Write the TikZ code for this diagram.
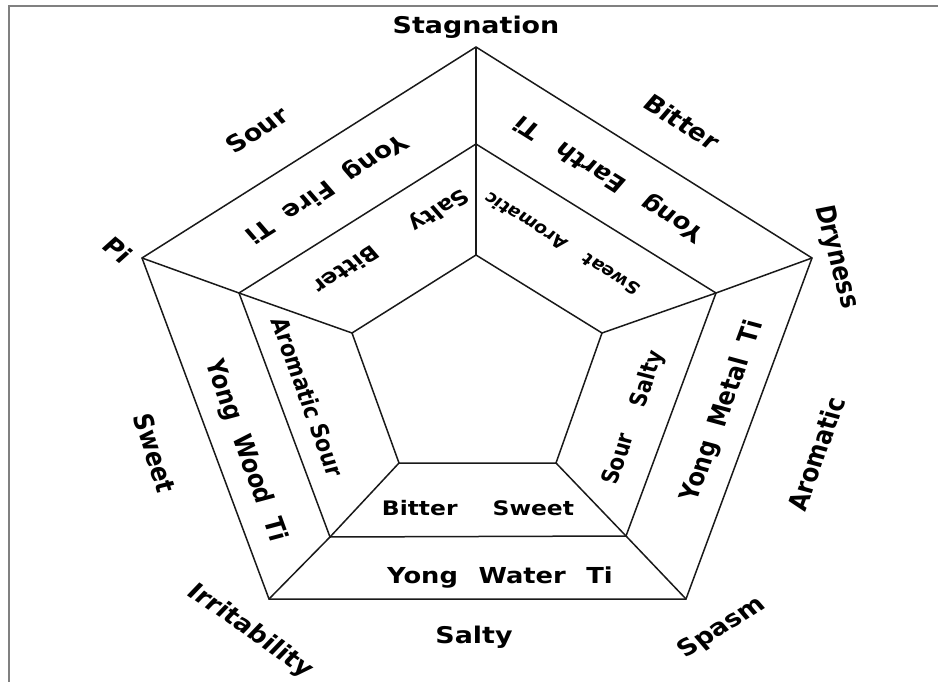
\documentclass[tikz,border=0pt]{standalone}
\usepackage{fontspec}
\setmainfont{DejaVu Sans}
\usetikzlibrary{calc}
\tikzset{edge/.style={draw=black!90,line width=1.5pt,line join=miter},frame/.style={draw=gray,line width=1.8pt},sign/.style={font=\fontsize{23}{25}\selectfont\bfseries,xscale=1.17,inner sep=0pt},ti/.style={sign,font=\fontsize{22.5}{24}\selectfont\bfseries},flavor/.style={sign,font=\fontsize{20}{22}\selectfont\bfseries},small/.style={sign,font=\fontsize{16.5}{18}\selectfont\bfseries}}

\begin{document}
\begin{tikzpicture}[x=1pt,y=-1pt]
\useasboundingbox (0,0) rectangle (938,682);
\draw[frame] (9,682)--(9,6)--(938,6);
% outer, middle and inner pentagon
\coordinate (o1) at (476,47);\coordinate (o2) at (812,258);\coordinate (o3) at (686,599);\coordinate (o4) at (269,599);\coordinate (o5) at (142,258);
\coordinate (m1) at (476,144);\coordinate (m2) at (716,293);\coordinate (m3) at (626,536);\coordinate (m4) at (330,537);\coordinate (m5) at (239,293);
\coordinate (i1) at (476,255);\coordinate (i2) at (602,333);\coordinate (i3) at (556,463);\coordinate (i4) at (399,463);\coordinate (i5) at (352,333);
\draw[edge] (o1)--(o2)--(o3)--(o4)--(o5)--cycle;
\draw[edge] (m1)--(m2)--(m3)--(m4)--(m5)--cycle;
\draw[edge] (i1)--(i2)--(i3)--(i4)--(i5)--cycle;
\foreach \k in {1,...,5} \draw[edge] (o\k)--(m\k)--(i\k);
% outer signs
\node[sign] (stag) at (476,27) {Stagnation};
\node[sign,rotate=-36.3] (bitter) at (682,122) {Bitter};
\node[sign,rotate=-77.1] (dry) at (836,257) {Dryness};
\node[sign,rotate=72.5] (arom) at (816,454) {Aromatic};
\node[sign,rotate=36.2] (spasm) at (722,628) {Spasm};
\node[sign] (salty) at (474,637) {Salty};
\node[sign,rotate=-39.3] (irr) at (250,631) {Irritability};
\node[sign,rotate=-74.3] (sweet) at (155,453) {Sweet};
\node[sign,rotate=-43.5] (pi) at (118,250) {Pi};
\node[sign,rotate=36.4] (sour) at (257,130) {Sour};
% yong band
\node[ti,rotate=216.4] (fire) at (326,188) {Yong\hspace{.7em}Fire\hspace{.7em}Ti};
\node[ti,rotate=143.7] (earth) at (610,178) {Yong\hspace{.95em}Earth\hspace{.95em}Ti};
\node[ti,rotate=72.5] (metal) at (723,411) {Yong\hspace{.7em}Metal\hspace{.7em}Ti};
\node[ti,font=\fontsize{22}{24}\selectfont\bfseries] (water) at (500,578) {Yong\hspace{.8em}Water\hspace{.8em}Ti};
\node[ti,rotate=-72.6] (wood) at (245,451) {Yong\hspace{.72em}Wood\hspace{.72em}Ti};
% inner band
\node[flavor,rotate=216.4] (sb) at (390,240) {Salty\hspace{1.9em}Bitter};
\node[small,rotate=143.7] (sa) at (562,244) {Sweat\hspace{1.2em}Aromatic};
\node[flavor,rotate=73.1] (ss) at (634,418) {Sour\hspace{1.45em}Salty};
\node[flavor] (bs) at (478,508) {Bitter\hspace{1.5em}Sweet};
\node[flavor,font=\fontsize{20.5}{22}\selectfont\bfseries,rotate=-72.6] (as) at (308,397) {Aromatic Sour};
\end{tikzpicture}
\end{document}
